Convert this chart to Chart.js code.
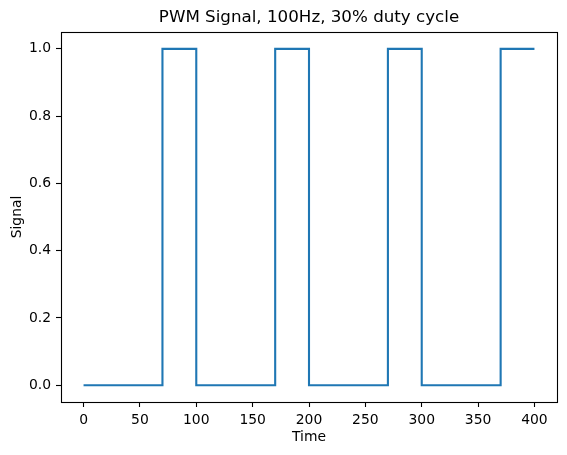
<!DOCTYPE html>
<html>
<head>
<meta charset="utf-8">
<script src="https://cdn.jsdelivr.net/npm/chart.js@4/dist/chart.umd.min.js"></script>
<style>
  html, body { margin: 0; padding: 0; background: #fff; }
  #wrap { width: 567px; height: 455px; position: relative; }
</style>
</head>
<body>
<div id="wrap"><canvas id="c"></canvas></div>
<script>
// Signal vertices (time, level)
const time   = [0, 70, 70, 100, 100, 170, 170, 200, 200, 270, 270, 300, 300, 370, 370, 400];
const signal = [0,  0,  1,   1,   0,   0,   1,   1,   0,   0,   1,   1,   0,   0,   1,   1];
const xTicks = [0, 50, 100, 150, 200, 250, 300, 350, 400];
const yTicks = [0.0, 0.2, 0.4, 0.6, 0.8, 1.0];
const titleText = 'PWM Signal, 100Hz, 30% duty cycle';
const xLabel = 'Time';
const yLabel = 'Signal';

const FONT = 'DejaVu Sans';
const points = time.map((t, i) => ({ x: t, y: signal[i] }));

const frame = {
  id: 'frame',
  afterDraw(chart) {
    const { ctx, chartArea: a } = chart;
    ctx.save();
    ctx.strokeStyle = '#000';
    ctx.lineWidth = 1.1;
    ctx.strokeRect(Math.round(a.left) + 0.5, Math.round(a.top) + 0.5,
                   Math.round(a.right - a.left), Math.round(a.bottom - a.top));
    ctx.restore();
  }
};

const axisCommon = {
  grid: { display: true, drawOnChartArea: false, drawTicks: true, tickLength: 5, tickWidth: 1.1, tickColor: '#000' },
  border: { display: false },
};

new Chart(document.getElementById('c'), {
  type: 'line',
  data: {
    datasets: [{
      data: points,
      borderColor: '#1f77b4',
      borderWidth: 2.1,
      pointRadius: 0,
      tension: 0,
      fill: false,
      borderJoinStyle: 'miter',
      borderCapStyle: 'butt'
    }]
  },
  plugins: [frame],
  options: {
    responsive: true,
    maintainAspectRatio: false,
    animation: false,
    layout: { padding: { left: 0, right: 10, top: 0, bottom: 0 } },
    plugins: {
      legend: { display: false },
      tooltip: { enabled: false },
      title: {
        display: true,
        text: titleText,
        fullSize: false,
        color: '#000',
        font: { family: FONT, size: 16.7, weight: 'normal' },
        padding: { top: 8, bottom: 4 }
      }
    },
    scales: {
      x: {
        type: 'linear',
        min: -20, max: 420,
        ...axisCommon,
        afterBuildTicks(s) { s.ticks = xTicks.map(v => ({ value: v })); },
        afterFit(s) { s.height = 53; },
        ticks: {
          color: '#000', padding: 5, maxRotation: 0, autoSkip: false,
          font: { family: FONT, size: 13.9 },
          callback: v => String(v)
        },
        title: { display: true, text: xLabel, color: '#000', font: { family: FONT, size: 13.9 }, padding: { top: 0, bottom: 9 } }
      },
      y: {
        type: 'linear',
        min: -0.05, max: 1.05,
        ...axisCommon,
        afterBuildTicks(s) { s.ticks = yTicks.map(v => ({ value: v })); },
        afterFit(s) { s.width = 61; },
        ticks: {
          color: '#000', padding: 5, autoSkip: false,
          font: { family: FONT, size: 13.9 },
          callback: v => Number(v).toFixed(1)
        },
        title: { display: true, text: yLabel, color: '#000', font: { family: FONT, size: 13.9 }, padding: { top: 9, bottom: 0 } }
      }
    }
  }
});
</script>
</body>
</html>
